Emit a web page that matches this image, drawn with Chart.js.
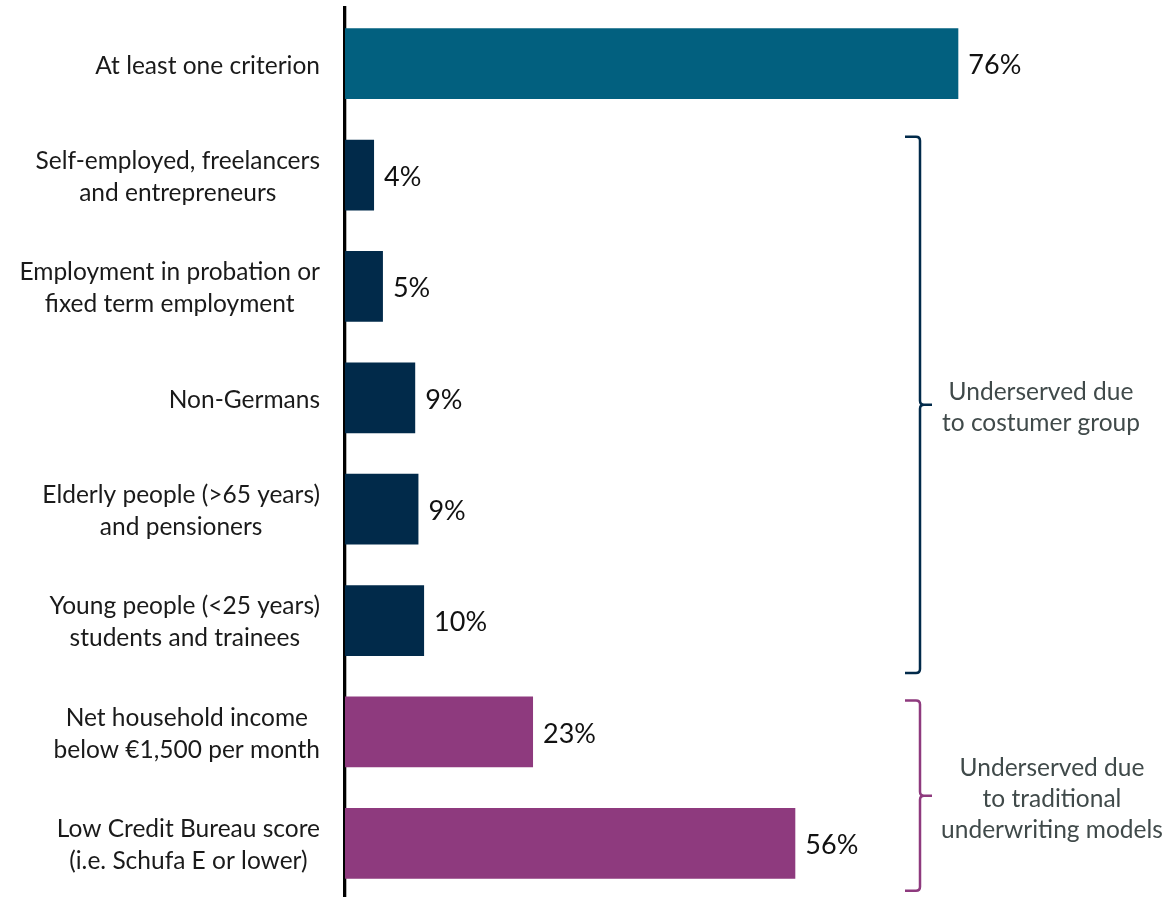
<!DOCTYPE html>
<html>
<head>
<meta charset="utf-8">
<script src="https://cdn.jsdelivr.net/npm/chart.js@4.4.1/dist/chart.umd.min.js"></script>
<style>
  html, body { margin: 0; padding: 0; background: #ffffff; overflow: hidden; }
  #wrap { width: 1168px; height: 897px; position: relative; overflow: hidden; }
</style>
</head>
<body>
<div id="wrap"><canvas id="c" width="1168" height="899"></canvas></div>
<script>
// ---- data ----
const categories = [
  ["At least one criterion"],
  ["Self-employed, freelancers", "and entrepreneurs"],
  ["Employment in probation or", "fixed term employment"],
  ["Non-Germans"],
  ["Elderly people (>65 years)", "and pensioners"],
  ["Young people (<25 years)", "students and trainees"],
  ["Net household income", "below \u20ac1,500 per month"],
  ["Low Credit Bureau score", "(i.e. Schufa E or lower)"]
];
const shares = [76, 3.6, 4.7, 8.7, 9.1, 9.8, 23.3, 55.8];
const barColors = ["#02607F", "#012A4A", "#012A4A", "#012A4A", "#012A4A", "#012A4A", "#8E3A7E", "#8E3A7E"];
const groupLabels = [
  ["Underserved due", "to costumer group"],
  ["Underserved due", "to traditional", "underwriting models"]
];
const groupFirst = [1, 6];
const groupLast = [5, 7];
const groupColors = ["#012A4A", "#8E3A7E"];

const FONT = "Lato, 'Open Sans', sans-serif";

const labelPlugin = {
  id: 'customLabels',
  afterDatasetsDraw(chart) {
    const ctx = chart.ctx;
    const y = chart.scales.y;
    const meta = chart.getDatasetMeta(0);
    ctx.save();
    // category labels: block right-aligned, lines centered
    ctx.font = "24.5px " + FONT;
    ctx.fillStyle = "#1a1a1a";
    ctx.textAlign = "center";
    ctx.textBaseline = "middle";
    const lh = 32;
    categories.forEach((lines, i) => {
      const cy = y.getPixelForValue(i) + 2;
      const maxW = Math.max(...lines.map(l => ctx.measureText(l).width));
      const cx = 320 - maxW / 2;
      const y0 = cy - (lines.length - 1) * lh / 2;
      lines.forEach((l, k) => ctx.fillText(l, cx, y0 + k * lh));
    });
    // value labels
    ctx.font = "27px " + FONT;
    ctx.fillStyle = "#111111";
    ctx.textAlign = "left";
    meta.data.forEach((bar, i) => {
      ctx.fillText(Math.round(shares[i]) + "%", bar.x + 10, bar.y + 2);
    });
    // group brackets
    const bx = 920, hook = 15, tick = 12, r = 4;
    const topOff = [-3, 4], botOff = [17, 12];
    const textX = [1041, 1052];
    groupLabels.forEach((lines, g) => {
      const first = meta.data[groupFirst[g]];
      const last = meta.data[groupLast[g]];
      const top = first.y - first.height / 2 + topOff[g];
      const bot = last.y + last.height / 2 + botOff[g];
      const mid = (top + bot) / 2;
      ctx.strokeStyle = groupColors[g];
      ctx.lineWidth = 2.5;
      ctx.lineJoin = "round";
      ctx.beginPath();
      ctx.moveTo(bx - hook, top);
      ctx.lineTo(bx - r, top);
      ctx.quadraticCurveTo(bx, top, bx, top + r);
      ctx.lineTo(bx, mid - r);
      ctx.quadraticCurveTo(bx, mid, bx + r, mid);
      ctx.lineTo(bx + tick, mid);
      ctx.moveTo(bx + r, mid);
      ctx.quadraticCurveTo(bx, mid, bx, mid + r);
      ctx.lineTo(bx, bot - r);
      ctx.quadraticCurveTo(bx, bot, bx - r, bot);
      ctx.lineTo(bx - hook, bot);
      ctx.stroke();
      ctx.font = "24.5px " + FONT;
      ctx.fillStyle = "#404a4a";
      ctx.textAlign = "center";
      const glh = 31;
      const ty0 = mid + 3 - (lines.length - 1) * glh / 2;
      lines.forEach((l, k) => ctx.fillText(l, textX[g], ty0 + k * glh));
    });
    ctx.restore();
  }
};

new Chart(document.getElementById('c'), {
  type: 'bar',
  data: {
    labels: categories,
    datasets: [{
      data: shares,
      backgroundColor: barColors,
      borderWidth: 0,
      barPercentage: 0.635,
      categoryPercentage: 1.0
    }]
  },
  options: {
    indexAxis: 'y',
    responsive: false,
    animation: false,
    devicePixelRatio: 1,
    layout: { padding: { left: 345, right: 16, top: 8, bottom: 0 } },
    plugins: { legend: { display: false }, tooltip: { enabled: false } },
    scales: {
      x: { display: false, min: 0, max: 100 },
      y: {
        display: true,
        ticks: { display: false },
        grid: { display: false, drawTicks: false },
        border: { display: true, color: '#000000', width: 3.3 }
      }
    }
  },
  plugins: [labelPlugin]
});
</script>
</body>
</html>
